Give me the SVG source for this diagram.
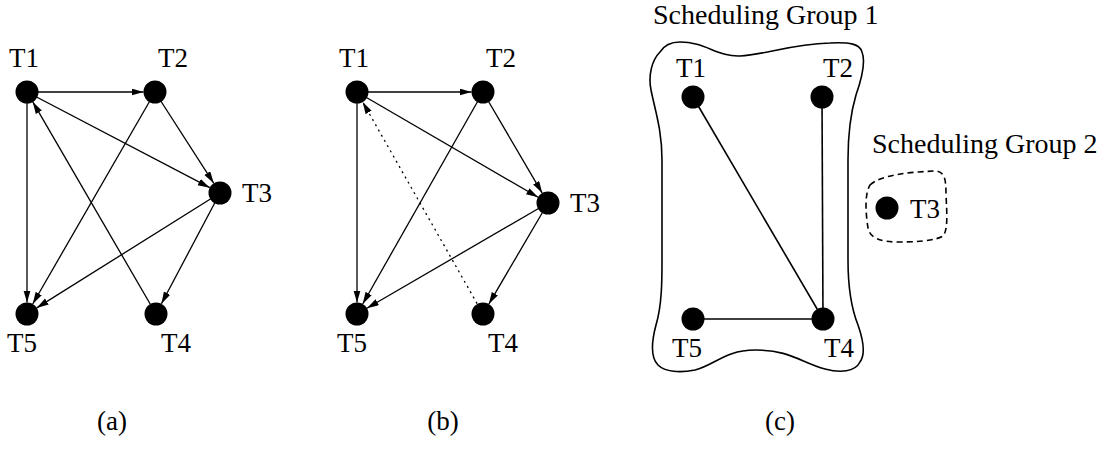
<svg xmlns="http://www.w3.org/2000/svg" width="1113" height="450" viewBox="0 0 1113 450">
<style>
text{font-family:"Liberation Serif","Times New Roman",serif;font-size:27px;fill:#000}
.mid{text-anchor:middle}
.grp{font-size:28px}
.e{stroke:#000;stroke-width:1.3;fill:none}
.a{marker-end:url(#arr)}
.dot{stroke-dasharray:2 4}
.u{stroke:#000;stroke-width:1.6;fill:none}
.n{fill:#000}
</style>
<defs>
<marker id="arr" markerUnits="userSpaceOnUse" markerWidth="13" markerHeight="8" refX="12" refY="3.5" orient="auto">
<path d="M0,0 L12,3.5 L0,7 z" fill="#000"/>
</marker>
</defs>
<g id="connectors">
<!-- (a) -->
<line class="e a" x1="27" y1="92" x2="143.5" y2="92"/>
<line class="e a" x1="27" y1="92" x2="209.8" y2="187.7"/>
<line class="e a" x1="27" y1="92" x2="27" y2="302.5"/>
<line class="e a" x1="155" y1="92" x2="213.8" y2="183.3"/>
<line class="e a" x1="155" y1="92" x2="32.7" y2="304"/>
<line class="e a" x1="220" y1="193" x2="36.7" y2="307.9"/>
<line class="e a" x1="220" y1="193" x2="161.4" y2="303.8"/>
<line class="e a" x1="156" y1="314" x2="32.8" y2="101.9"/>
<!-- (b) -->
<line class="e a" x1="357" y1="92" x2="471.5" y2="92"/>
<line class="e a" x1="357" y1="92" x2="538.1" y2="197.2"/>
<line class="e a" x1="357" y1="92" x2="357" y2="302.5"/>
<line class="e a" x1="483" y1="92" x2="542.2" y2="193.1"/>
<line class="e a" x1="483" y1="92" x2="362.7" y2="304"/>
<line class="e a" x1="548" y1="203" x2="366.9" y2="308.2"/>
<line class="e a" x1="548" y1="203" x2="488.8" y2="304.1"/>
<line class="e a dot" x1="483" y1="314" x2="362.7" y2="102"/>
<!-- (c) -->
<line class="u" x1="693" y1="97" x2="823" y2="319"/>
<line class="u" x1="822" y1="97" x2="823" y2="319"/>
<line class="u" x1="693" y1="319" x2="823" y2="319"/>
</g>
<g id="group1">
<path class="u" d="M660,52 C665,44 672,42 680,42 C705,42 718,57 740,56 C765,55 790,44 830,43 C850,42 860,44 862,52 C866,62 862,78 856,95 C850,115 848,135 848,160 L848,260 C848,290 852,310 858,325 C864,342 865,355 860,362 C855,372 840,373 825,369 C800,362 790,350 755,350 C725,350 715,365 695,370 C680,373 665,372 658,365 C650,357 652,340 656,325 C662,305 662,280 662,260 L662,160 C662,130 655,110 651,90 C648,75 652,60 660,52 Z"/>
<text class="grp" x="653" y="24">Scheduling Group 1</text>
</g>
<g id="group2">
<path class="u" stroke-dasharray="6 4" d="M870,185 C880,175 910,172 935,171 C945,171 946,180 946,195 C947,215 948,230 943,236 C935,241 915,242 898,242 C880,242 870,238 868,228 C866,215 864,195 870,185 Z"/>
<text class="grp" x="872" y="153">Scheduling Group 2</text>
</g>
<g id="a-T1"><circle class="n" cx="27" cy="92" r="11.5"/><text class="mid" x="24" y="67">T1</text></g>
<g id="a-T2"><circle class="n" cx="155" cy="92" r="11.5"/><text class="mid" x="173" y="67">T2</text></g>
<g id="a-T3"><circle class="n" cx="220" cy="193" r="11.5"/><text x="242" y="202">T3</text></g>
<g id="a-T4"><circle class="n" cx="156" cy="314" r="11.5"/><text class="mid" x="176" y="352">T4</text></g>
<g id="a-T5"><circle class="n" cx="27" cy="314" r="11.5"/><text class="mid" x="22" y="352">T5</text></g>
<g id="b-T1"><circle class="n" cx="357" cy="92" r="11.5"/><text class="mid" x="354" y="67">T1</text></g>
<g id="b-T2"><circle class="n" cx="483" cy="92" r="11.5"/><text class="mid" x="501" y="67">T2</text></g>
<g id="b-T3"><circle class="n" cx="548" cy="203" r="11.5"/><text x="570" y="212">T3</text></g>
<g id="b-T4"><circle class="n" cx="483" cy="314" r="11.5"/><text class="mid" x="503" y="352">T4</text></g>
<g id="b-T5"><circle class="n" cx="357" cy="314" r="11.5"/><text class="mid" x="352" y="352">T5</text></g>
<g id="c-T1"><circle class="n" cx="693" cy="97" r="11.5"/><text class="mid" x="691" y="77">T1</text></g>
<g id="c-T2"><circle class="n" cx="822" cy="97" r="11.5"/><text class="mid" x="838" y="77">T2</text></g>
<g id="c-T3"><circle class="n" cx="887" cy="208" r="11.5"/><text x="910" y="218">T3</text></g>
<g id="c-T4"><circle class="n" cx="823" cy="319" r="11.5"/><text class="mid" x="839" y="357">T4</text></g>
<g id="c-T5"><circle class="n" cx="693" cy="319" r="11.5"/><text class="mid" x="687" y="357">T5</text></g>
<g id="captions">
<text class="mid" x="112" y="430">(a)</text>
<text class="mid" x="443" y="430">(b)</text>
<text class="mid" x="780" y="430">(c)</text>
</g>
</svg>
